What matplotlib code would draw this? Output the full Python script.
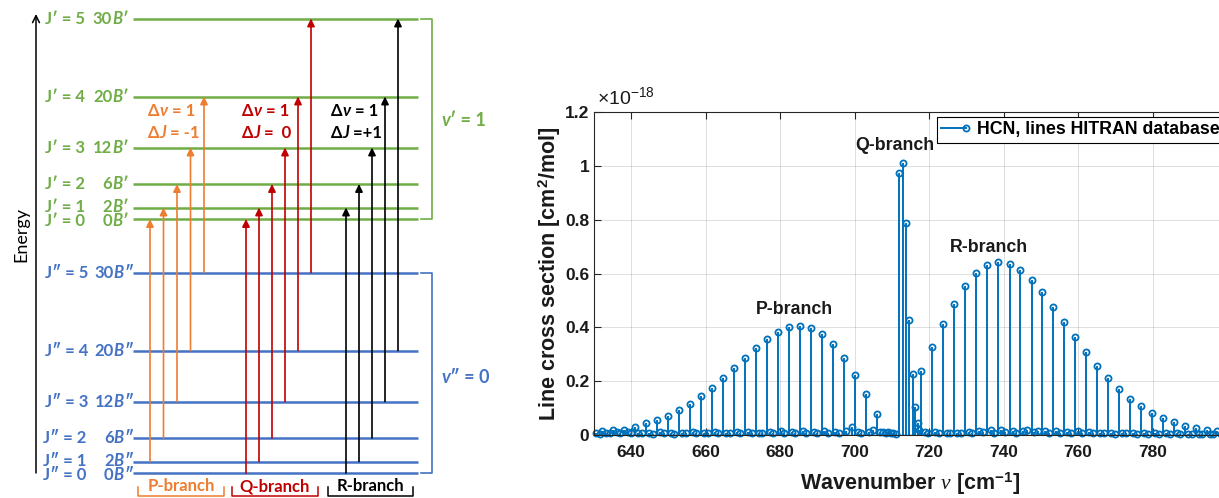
import matplotlib
matplotlib.use("Agg")
import matplotlib.pyplot as plt
import numpy as np
from matplotlib.lines import Line2D
from matplotlib.legend_handler import HandlerBase

plt.rcParams['mathtext.fontset'] = 'custom'
plt.rcParams['mathtext.rm'] = 'Liberation Sans:bold'
plt.rcParams['mathtext.bf'] = 'Liberation Sans:bold'
plt.rcParams['mathtext.it'] = 'Liberation Serif:italic'
plt.rcParams['mathtext.sf'] = 'Liberation Sans'

# ---- spectrum: HCN lines (cross section x1e-18 cm^2/mol) ----
p_nu = [632.1, 635.0, 638.0, 641.0, 643.9, 646.9, 649.8, 652.8, 655.8, 658.7,
        661.7, 664.6, 667.6, 670.6, 673.5, 676.5, 679.4, 682.4, 685.4, 688.3,
        691.3, 694.2, 697.2, 700.2, 703.1, 706.1, 709.0]
p_val = [0.015, 0.018, 0.020, 0.030, 0.043, 0.055, 0.072, 0.092, 0.117, 0.145,
         0.176, 0.212, 0.249, 0.287, 0.324, 0.357, 0.384, 0.401, 0.406, 0.399,
         0.377, 0.338, 0.285, 0.223, 0.152, 0.077, 0.012]

q_nu = [711.9, 712.9, 713.7, 714.5, 715.7, 716.2, 716.9]
q_val = [0.975, 1.012, 0.787, 0.428, 0.226, 0.105, 0.045]

r_nu = [717.9, 720.8, 723.8, 726.8, 729.7, 732.7, 735.6, 738.6, 741.6, 744.5,
        747.5, 750.4, 753.4, 756.3, 759.3, 762.2, 765.1, 768.1, 771.0, 774.0,
        776.9, 779.8, 782.8, 785.7, 788.6, 791.6, 794.5, 797.4]
r_val = [0.239, 0.326, 0.411, 0.487, 0.553, 0.601, 0.631, 0.643, 0.637, 0.613,
         0.576, 0.531, 0.477, 0.421, 0.364, 0.310, 0.258, 0.211, 0.171, 0.135,
         0.107, 0.083, 0.063, 0.048, 0.035, 0.026, 0.019, 0.015]

# weak hot-band / isotopologue lines near the baseline
hot_nu = [630.6, 631.5, 633.3, 634.2, 636.2, 637.1, 639.0, 640.0, 641.9, 642.9,
          644.8, 645.8, 647.7, 648.7, 650.7, 651.6, 653.6, 654.6, 656.6, 657.5,
          659.5, 660.5, 662.5, 663.4, 665.4, 666.4, 668.4, 669.3, 671.3, 672.3,
          674.2, 675.2, 677.2, 678.2, 680.1, 681.1, 683.1, 684.0, 686.0, 687.0,
          689.0, 689.9, 691.9, 692.9, 694.8, 695.8, 697.8, 699.2, 700.9, 701.8,
          703.9, 704.8, 706.9, 707.6, 708.3, 709.8, 710.4, 711.0,
          717.2, 718.8, 719.7, 721.7, 722.6, 724.7, 725.6, 727.6, 728.6, 730.6,
          731.5, 733.5, 734.5, 736.5, 737.4, 739.4, 740.4, 742.4, 743.3, 745.3,
          746.3, 748.3, 749.2, 751.2, 752.2, 754.2, 755.1, 757.1, 758.1, 760.1,
          761.0, 763.0, 764.0, 766.0, 766.9, 768.9, 769.9, 771.9, 772.8, 774.8,
          775.8, 777.8, 778.7, 780.7, 781.7, 783.6, 784.6, 786.6, 787.5, 789.5,
          790.5, 792.5, 793.4, 795.4, 796.3, 798.3, 799.2]
hot_val = [0.007, 0.005, 0.009, 0.006, 0.010, 0.006, 0.012, 0.007, 0.009, 0.006,
           0.008, 0.005, 0.010, 0.006, 0.008, 0.005, 0.009, 0.006, 0.010, 0.006,
           0.008, 0.006, 0.011, 0.006, 0.009, 0.007, 0.012, 0.007, 0.010, 0.006,
           0.009, 0.007, 0.012, 0.008, 0.014, 0.008, 0.012, 0.007, 0.015, 0.008,
           0.012, 0.008, 0.014, 0.009, 0.012, 0.008, 0.016, 0.030, 0.012, 0.008,
           0.010, 0.020, 0.012, 0.010, 0.008, 0.009, 0.006, 0.005,
           0.020, 0.012, 0.007, 0.010, 0.006, 0.008, 0.006, 0.009, 0.007, 0.013,
           0.008, 0.016, 0.010, 0.018, 0.009, 0.019, 0.010, 0.016, 0.009, 0.015,
           0.018, 0.010, 0.014, 0.016, 0.009, 0.015, 0.008, 0.011, 0.007, 0.014,
           0.008, 0.010, 0.007, 0.008, 0.006, 0.009, 0.005, 0.008, 0.006, 0.007,
           0.005, 0.007, 0.005, 0.008, 0.005, 0.006, 0.004, 0.006, 0.004, 0.005,
           0.004, 0.005, 0.004, 0.005, 0.004, 0.004, 0.003]

xticks = [640, 660, 680, 700, 720, 740, 760, 780]
yticks = [0, 0.2, 0.4, 0.6, 0.8, 1.0, 1.2]
ytick_labels = ['0', '0.2', '0.4', '0.6', '0.8', '1', '1.2']

# ---- energy level diagram ----
J = [0, 1, 2, 3, 4, 5]
EB = [0, 2, 6, 12, 20, 30]          # rotational energy in units of B
level_gap = [0, 11.5, 35, 71.5, 122.5, 200.5]   # drawn height above J=0
lower_base, upper_base = 25, 279

green = '#70AD47'
blue = '#4472C4'
orange = '#ED7D31'
red = '#C00000'
stem_c = '#0072BD'
W, H = 1219, 498

fig = plt.figure(figsize=(W / 100, H / 100), dpi=100)
ax0 = fig.add_axes([0, 0, 1, 1])
ax0.set_xlim(0, W)
ax0.set_ylim(0, H)
ax0.axis('off')

fam = ['Lato', 'DejaVu Sans']


def rich(x, y, parts, color, size=12, ha='left'):
    # draw text pieces side by side, (text, italic)
    seq = parts if ha == 'left' else parts[::-1]
    prev = None
    for s, it in seq:
        kw = dict(color=color, fontsize=size, fontweight='bold', family=fam,
                  style='italic' if it else 'normal')
        if prev is None:
            prev = ax0.text(x, y, s, ha=ha, va='center', **kw)
        else:
            prev = ax0.annotate(s, xy=(1, 0) if ha == 'left' else (0, 0),
                                xycoords=prev, ha=ha, va='bottom', **kw)


lower_y = [lower_base + g for g in level_gap]
upper_y = [upper_base + g for g in level_gap]
ax0.hlines(lower_y, 133, 418, color=blue, lw=1.8)
ax0.hlines(upper_y, 133, 418, color=green, lw=1.8)

# small nudges so the J=0 / J=1 labels do not sit on top of each other
nudge = [-1.5, 1, 0, 0, 0, 0]
for j, e, yl, yu, dy in zip(J, EB, lower_y, upper_y, nudge):
    rich(45, yu + dy, [('J\u2032 = %d' % j, False)], green)
    rich(128, yu + dy, [('%d' % e, False), ('B', True), ('\u2032', False)], green, ha='right')
    rich(45 if j > 2 else 43, yl + dy, [('J\u2033 = %d' % j, False)], blue)
    rich(133, yl + dy, [('%d' % e, False), ('B', True), ('\u2033', False)], blue, ha='right')


def transition(x, jl, ju, color):
    ax0.annotate('', xy=(x, upper_y[ju]), xytext=(x, lower_y[jl]),
                 arrowprops=dict(arrowstyle='-|>,head_length=0.45,head_width=0.22',
                                 color=color, lw=1.2, shrinkA=0, shrinkB=0))


for i, jl in enumerate([1, 2, 3, 4, 5]):
    transition(150 + 13.5 * i, jl, jl - 1, orange)
for i, jl in enumerate([0, 1, 2, 3, 4, 5]):
    transition(246 + 13 * i, jl, jl, red)
for i, jl in enumerate([0, 1, 2, 3, 4]):
    transition(346 + 13 * i, jl, jl + 1, 'black')

# energy axis
ax0.annotate('', xy=(36, 484), xytext=(36, lower_base),
             arrowprops=dict(arrowstyle='->,head_length=0.5,head_width=0.25',
                             color='black', lw=1.1, shrinkA=0, shrinkB=0))
ax0.text(21, 264, 'Energy', rotation=90, ha='center', va='center',
         fontsize=13, family=fam, color='black')

# selection rules
for x, c, dj in [(148, orange, ' = -1'), (242, red, ' =  0'), (331, 'black', ' =+1')]:
    rich(x, 387, [('\u0394', False), ('\u03bd', True), (' = 1', False)], c)
    rich(x, 365, [('\u0394', False), ('J', True), (dj, False)], c)

# vibrational brackets
ax0.plot([421, 432, 432, 421], [upper_y[-1], upper_y[-1], upper_y[0], upper_y[0]],
         color=green, lw=1.2)
ax0.plot([421, 432, 432, 421], [lower_y[-1], lower_y[-1], lower_y[0], lower_y[0]],
         color=blue, lw=1.2)
rich(441, 378, [('v', True), ('\u2032 = 1', False)], green, size=13)
rich(441, 121, [('v', True), ('\u2033 = 0', False)], blue, size=13)

# branch brackets
for x0, x1, c, s in [(138, 224, orange, 'P-branch'), (232, 318, red, 'Q-branch'),
                     (328, 413, 'black', 'R-branch')]:
    ax0.plot([x0, x0, x1, x1], [11, 2, 2, 11], color=c, lw=1.1)
    ax0.text((x0 + x1) / 2, 12, s, ha='center', va='center', color=c,
             fontsize=12, fontweight='bold', family=fam)

# ---- spectrum axes ----
ax = fig.add_axes([594 / W, 63 / H, 633 / W, 323 / H])
nu = np.concatenate([p_nu, q_nu, r_nu, hot_nu])
val = np.concatenate([p_val, q_val, r_val, hot_val])
markerline, stemlines, baseline = ax.stem(nu, val, basefmt=' ')
stemlines.set_color(stem_c)
stemlines.set_linewidth(1.4)
markerline.set_color(stem_c)
markerline.set_markerfacecolor('none')
markerline.set_markersize(4.4)
markerline.set_markeredgewidth(1.3)
markerline.set_clip_on(False)
ax.axhline(0, color='black', lw=1.0, zorder=1)

ax.set_xlim(630, 800)
ax.set_ylim(0, 1.2)
ax.set_xticks(xticks)
ax.set_yticks(yticks)
ax.set_yticklabels(ytick_labels)
ax.grid(True, color='#262626', alpha=0.15, lw=0.7)
ax.tick_params(direction='in', top=True, right=True, length=5, width=0.8,
               colors='#262626', labelcolor='#1a1a1a', labelsize=12.5)
ax.tick_params(axis='x', pad=7)
for lab in ax.get_xticklabels() + ax.get_yticklabels():
    lab.set_family('Liberation Sans')
    lab.set_fontweight('bold')
for sp in ax.spines.values():
    sp.set_color('#262626')
    sp.set_linewidth(0.8)

lab_font = dict(family='Liberation Sans', fontweight='bold', fontsize=15.5, color='#1a1a1a')
ax.set_xlabel(r'Wavenumber $\nu$ [cm$^{-1}$]', labelpad=8, **lab_font)
ax.set_ylabel(r'Line cross section [cm$^{2}$/mol]', labelpad=1, **lab_font)
ax.text(0.004, 1.012, r'$\mathsf{\times10^{-18}}$', transform=ax.transAxes,
        ha='left', va='bottom', fontsize=14, color='#1a1a1a')

ann = dict(family='Liberation Sans', fontweight='bold', fontsize=12.8,
           ha='center', va='center', color='#1a1a1a')
ax.text(683.7, 0.465, 'P-branch', **ann)
ax.text(710.8, 1.074, 'Q-branch', **ann)
ax.text(736.0, 0.695, 'R-branch', **ann)


class StemHandler(HandlerBase):
    def create_artists(self, legend, orig_handle, xdescent, ydescent, width,
                       height, fontsize, trans):
        y = height / 2 - ydescent
        x0, x1 = -xdescent, width - xdescent
        ln = Line2D([x0, x1], [y, y], color=stem_c, lw=1.4, transform=trans)
        mk = Line2D([x1], [y], color=stem_c, marker='o', ms=4.4, mew=1.3,
                    mfc='none', ls='none', transform=trans)
        return [ln, mk]


proxy = Line2D([], [], color=stem_c)
leg = ax.legend([proxy], ['HCN, lines HITRAN database'],
                handler_map={proxy: StemHandler()}, loc='upper left',
                bbox_to_anchor=(937 / W, 1 - 117 / H), bbox_transform=fig.transFigure,
                borderaxespad=0, fancybox=False, edgecolor='black', framealpha=1,
                prop=dict(family='Liberation Sans', weight='bold', size=12.8),
                handlelength=1.4, handletextpad=0.6, borderpad=0.25)
leg.get_frame().set_linewidth(0.8)

fig.savefig('out.png', dpi=100)
